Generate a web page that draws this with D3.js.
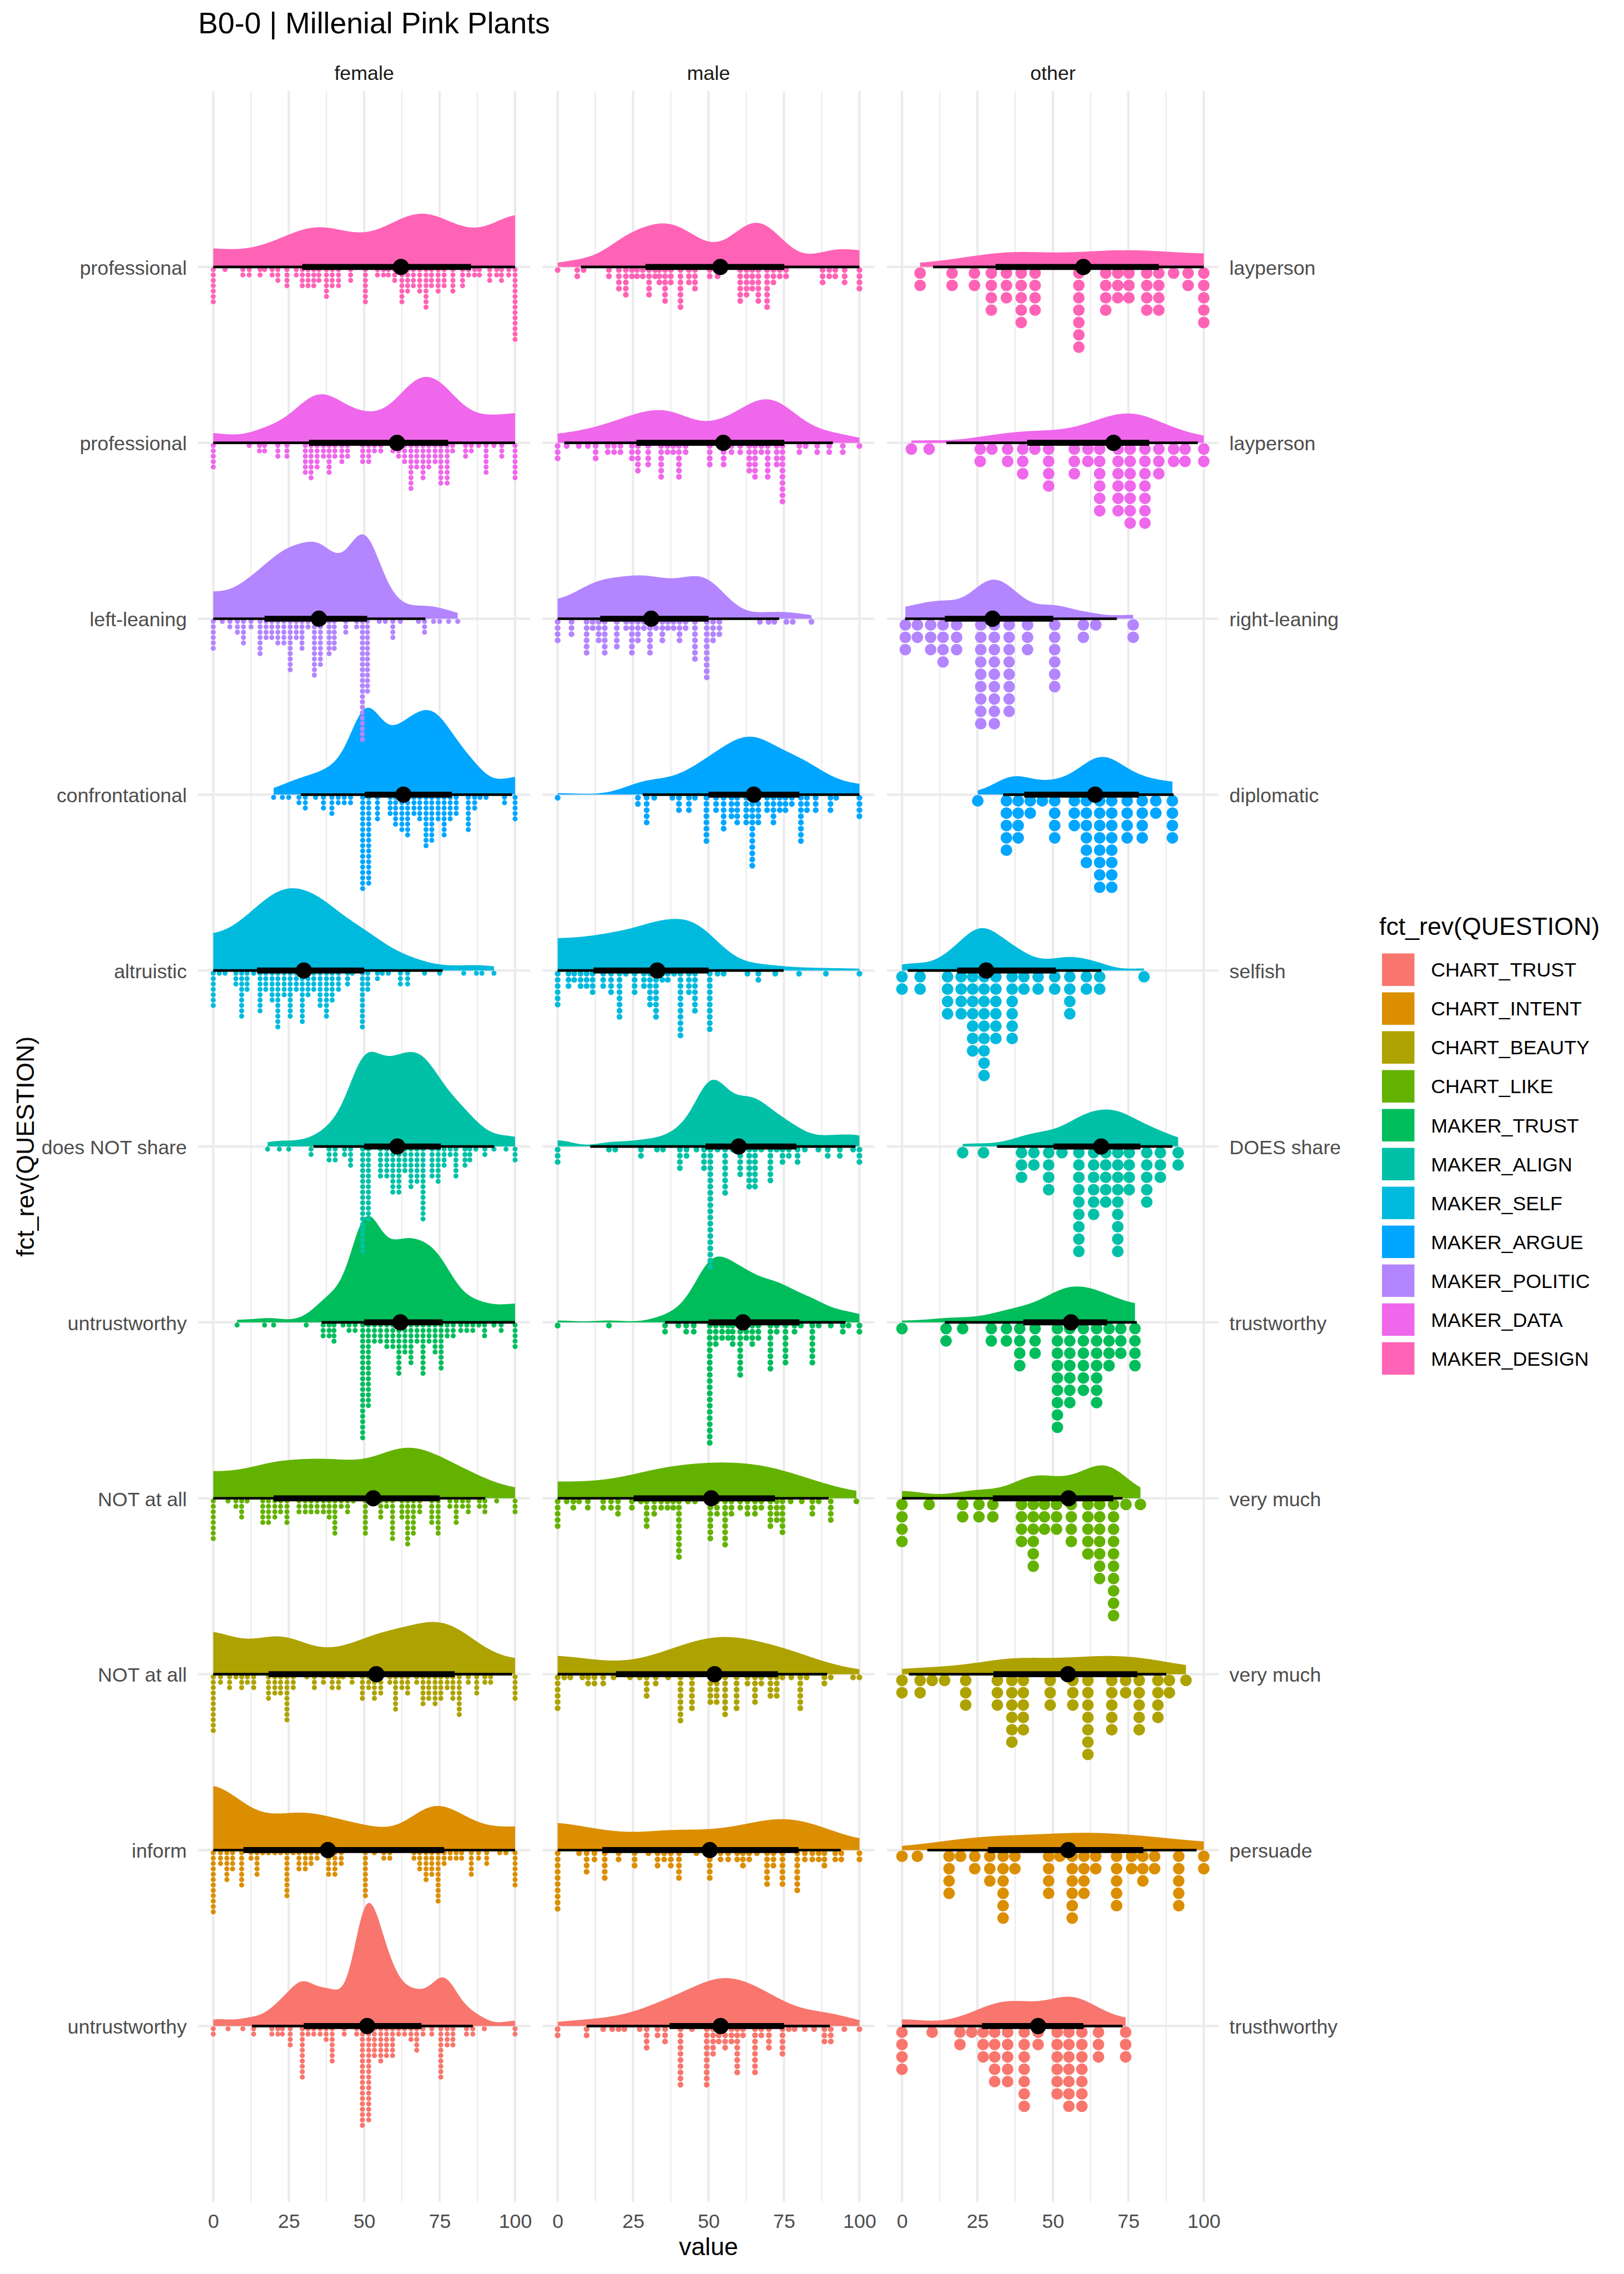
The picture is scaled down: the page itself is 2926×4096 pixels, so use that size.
<!DOCTYPE html>
<html><head><meta charset="utf-8">
<script src="https://cdn.jsdelivr.net/npm/d3@7"></script>
<style>body{margin:0;background:#fff}svg{display:block}</style>
</head><body>
<svg id="chart" width="2926" height="4096" viewBox="0 0 3000 4200"></svg>
<script>
// ---------------- DATA ----------------
const chartTitle = "B0-0 | Millenial Pink Plants";
const genders = ["female", "male", "other"];
const questions = ["CHART_TRUST","CHART_INTENT","CHART_BEAUTY","CHART_LIKE","MAKER_TRUST","MAKER_ALIGN","MAKER_SELF","MAKER_ARGUE","MAKER_POLITIC","MAKER_DATA","MAKER_DESIGN"];
const questionColors = ["#F8766D","#DB8E00","#AEA200","#64B200","#00BD5C","#00C1A7","#00BADE","#00A6FF","#B385FF","#EF67EB","#FF63B6"];
const lowLabels = ["untrustworthy","inform","NOT at all","NOT at all","untrustworthy","does NOT share","altruistic","confrontational","left-leaning","professional","professional"];
const highLabels = ["trusthworthy","persuade","very much","very much","trustworthy","DOES share","selfish","diplomatic","right-leaning","layperson","layperson"];
const xTicks = [0, 25, 50, 75, 100];
const xMinorTicks = [12.5, 37.5, 62.5, 87.5];

// dot stacks per question (order of `questions`): [value, count]
const femaleDots = [
  [[0,2],[4.9,1],[9.8,1],[13.4,2],[19.4,2],[21.4,2],[22.9,2],[25.5,4],[29.5,10],[31.4,2],[33.3,2],[35.4,2],[37.4,3],[39.4,7],[43.4,2],[47.5,2],[49.4,19],[51.5,18],[53.4,6],[55.5,7],[57.4,6],[59.4,6],[61.4,2],[63.4,2],[65.5,3],[67.4,5],[69.5,2],[72.4,2],[75.4,10],[77.5,4],[79.4,4],[83.9,2],[86,2],[89.8,1],[100,2]],
  [[0,12],[2.4,3],[4.5,6],[6.4,4],[9.4,7],[12.5,2],[14.5,5],[16.4,1],[18.3,1],[20.4,1],[22.3,1],[24.4,9],[26.5,1],[28.4,4],[30.5,4],[32.4,3],[34.4,2],[38.2,5],[40.3,5],[42.4,3],[50.4,9],[53.4,1],[56.5,2],[58.5,2],[66.5,2],[68.4,4],[70.5,6],[72.4,5],[74.5,10],[76.5,3],[78.5,2],[80.5,2],[82.3,2],[85.5,5],[87.9,2],[90.6,3],[94.9,1],[97,1],[100,7]],
  [[0,11],[2.4,2],[5.4,3],[7.5,1],[9.4,3],[11.3,2],[13.4,3],[18.3,5],[20.4,4],[22.3,4],[24.4,9],[26.5,3],[31,1],[33.5,3],[36.5,2],[39.4,3],[41.5,3],[43,1],[46,2],[49.4,5],[51.5,3],[53.4,5],[55.5,4],[58.5,2],[60.4,7],[62.5,3],[64.4,4],[67.4,2],[69.5,6],[71.4,5],[73.5,6],[75.4,5],[77.5,3],[79.4,5],[81.5,8],[84.5,2],[87.3,4],[90,2],[91.9,2],[100,5]],
  [[0,8],[4.9,1],[7.5,2],[9.4,4],[11.2,1],[16.4,5],[18.3,5],[20.4,4],[22.3,3],[24.4,5],[28.4,3],[30.5,3],[32.4,3],[34.4,3],[36.5,3],[38.4,4],[40.3,7],[42.4,2],[44.5,3],[46.4,1],[50.4,7],[55.5,4],[57.4,2],[59.4,8],[62.5,4],[64.4,9],[66.3,7],[68.4,3],[72.4,5],[74.5,7],[78.4,2],[80.5,5],[82.6,2],[84.5,3],[88.2,2],[90,3],[93.9,1],[100,3]],
  [[7.9,1],[17,1],[20,1],[30.8,1],[36.4,3],[38.4,3],[40,4],[43,1],[45,2],[47,2],[49.5,22],[51.4,16],[53.4,4],[55.4,4],[57.5,5],[59.5,5],[61.5,10],[63.5,6],[65.5,8],[67.5,4],[69.5,10],[71.5,4],[73.5,6],[75.5,9],[77.5,3],[79.5,3],[82,2],[84,2],[86,2],[88,1],[89.9,3],[93,1],[95.4,2],[100,5]],
  [[18,1],[21.9,1],[25,1],[32.4,2],[38.4,3],[40.4,3],[43.5,2],[45.5,4],[49.5,20],[51.4,14],[55.4,6],[57.5,6],[59.5,9],[61.5,9],[63.5,5],[65.5,8],[67.5,7],[69.5,14],[72.5,6],[74.5,7],[76.5,4],[78.5,2],[80.4,6],[83.4,4],[85,3],[87,1],[90,2],[93,1],[97,1],[100,3]],
  [[0,7],[2,1],[3.9,1],[7.5,3],[9.4,9],[11.2,4],[13.4,1],[15.5,8],[17.4,4],[19.5,6],[21.4,11],[23.5,5],[25.5,9],[27.5,4],[29.5,10],[31.4,5],[33.3,4],[35.4,7],[37.5,9],[39.4,6],[41.5,4],[44.5,3],[46.1,1],[49.4,11],[51.2,4],[54.4,2],[56,1],[58,1],[62,3],[64.4,3],[70,1],[75,1],[83,1],[87.2,1],[89,1],[93,1]],
  [[20,1],[22.9,1],[25,1],[28.4,2],[30.5,3],[33.9,1],[36.5,3],[39.3,4],[41.4,2],[43.4,2],[45.5,2],[49.5,18],[51.5,17],[54.4,5],[58.6,4],[60.4,6],[62.5,7],[64.4,8],[66.5,4],[68.4,5],[70.5,10],[72.4,9],[74.5,5],[76.5,8],[78.5,5],[80.5,4],[84.5,7],[86.6,3],[88.4,1],[90.4,1],[96.5,2],[100,5]],
  [[0,6],[3,1],[5.5,2],[8,3],[10,5],[12.5,2],[15.5,7],[17.5,4],[19.4,4],[21.4,5],[23.4,5],[25.5,10],[27.5,4],[29.4,6],[31.4,2],[33.5,11],[35.5,9],[38.4,7],[40.1,6],[43.9,3],[47.5,2],[49.4,23],[51.1,14],[55,1],[57,1],[59.5,4],[62,1],[68,1],[70,3],[73,1],[75,1],[78,1],[81,1]],
  [[0,5],[11.9,1],[15.3,2],[17,2],[21.4,3],[24.4,3],[30.5,6],[32.4,7],[34.4,5],[36.5,3],[38.4,6],[40.3,3],[42.6,4],[44.5,3],[49.5,4],[51.5,4],[53.4,2],[55.5,2],[59.5,2],[61.4,3],[63.4,4],[65.5,9],[67.4,5],[69.5,7],[71.4,5],[73.5,4],[75.4,8],[77.5,8],[79.3,2],[83.6,3],[85.5,2],[87.9,1],[90.4,6],[93,1],[95.6,3],[100,7]],
  [[0,7],[3.9,1],[9.8,2],[11.9,2],[15.5,2],[17,1],[19.5,2],[21.4,3],[24.4,4],[27.5,2],[29.5,4],[31.4,4],[33.3,4],[35,3],[37.5,6],[39.4,4],[41.5,4],[45.5,3],[50.4,7],[54.4,2],[56.4,2],[58,2],[60.1,3],[62.5,7],[64.4,5],[66.3,4],[68.4,5],[70.5,8],[72.3,4],[74.5,5],[76.5,4],[79.4,5],[82.6,4],[84.6,2],[86.6,2],[88.2,2],[91.6,3],[93.9,2],[95.5,3],[97.9,2],[100,14]]
];
const maleDots = [
  [[0,2],[9.6,2],[15.1,1],[18.1,1],[20.2,1],[22.1,1],[27.2,1],[29.5,4],[33.1,2],[35.6,3],[40.7,10],[44.5,1],[49.4,10],[51.5,5],[53.4,3],[55.5,4],[57.6,3],[59.5,8],[61.4,2],[65.4,8],[67.5,2],[70,4],[74.5,5],[76.6,1],[78.5,1],[81.9,1],[85,1],[88.4,3],[90.5,3],[95,1],[100,1]],
  [[0,10],[7.1,1],[9.6,4],[12.2,2],[15.6,5],[20.2,2],[25.5,3],[30.1,1],[33.1,3],[35.3,2],[37.5,3],[40.2,5],[46,1],[50.4,5],[54,2],[56.5,2],[59.5,2],[61.4,3],[63.5,2],[66,1],[69.4,6],[71.5,3],[74.5,6],[79.4,7],[81.9,2],[84.4,2],[86.5,2],[88.4,3],[92,2],[94,2],[100,2]],
  [[0,6],[2.2,1],[4.2,1],[8.2,1],[10.1,2],[12.2,2],[15.1,2],[18.5,1],[24,1],[27.2,1],[29.5,4],[32.5,2],[36.6,1],[40.7,8],[44.5,6],[50.6,5],[52.7,5],[55.5,7],[59.3,6],[62.9,2],[65.4,5],[67.5,2],[70.5,4],[72.6,4],[74.5,1],[77.4,1],[80.4,6],[82.5,1],[88.4,2],[90.5,1],[97.9,1],[100,1]],
  [[0,5],[3,1],[5.2,2],[7.1,1],[10,2],[15.1,2],[17.7,2],[20,3],[24.6,2],[27.6,1],[29.5,5],[32,3],[34.3,2],[36.4,2],[38.3,2],[40.2,10],[43.2,1],[45.5,1],[50.6,7],[52.8,3],[55.5,8],[57.6,3],[60.5,2],[62.9,3],[65.4,3],[67.5,2],[70.5,5],[72.6,4],[74.5,6],[77.2,1],[80.9,1],[84.4,3],[86.5,1],[90.5,4],[99,1]],
  [[0,1],[17,1],[35.6,2],[40,1],[42.6,2],[45.1,2],[50.4,20],[52.4,4],[54.5,3],[56.5,3],[58,4],[60.5,9],[62.5,3],[64.5,4],[66.5,3],[70.5,8],[72.6,2],[75.5,7],[78.5,2],[80.6,1],[84.4,7],[86.5,1],[90.5,1],[94.5,2],[96.4,1],[100,2]],
  [[0,3],[17,1],[19.1,1],[27.6,2],[32.9,1],[34.9,1],[40.5,4],[42.7,2],[46,1],[48.5,4],[50.6,20],[53,1],[55.5,8],[58,1],[60.5,5],[63.5,7],[65.4,7],[67.5,1],[70.5,6],[72.6,1],[74.5,3],[76.6,2],[79.5,3],[81.9,1],[86.4,1],[89.5,2],[93.5,2],[97.9,1],[100,3]],
  [[0,6],[3.6,3],[5.5,2],[7.6,3],[9.6,3],[11.6,4],[15.1,3],[17.7,4],[20.5,8],[22.6,1],[25.5,4],[28.6,3],[30.6,6],[32.6,8],[34.7,2],[36.5,2],[38.6,1],[40.7,11],[43.5,4],[45.5,7],[50.4,10],[53,1],[55,1],[62.9,1],[66.5,2],[72.1,1],[80,1],[88.9,1],[100,1]],
  [[0,1],[26.6,2],[29.5,5],[32,1],[38,1],[40.2,3],[43.5,3],[45.5,1],[49.3,8],[52.5,3],[55,6],[57.6,4],[59.5,5],[62.5,5],[64.5,12],[66.5,5],[69.4,3],[71.5,5],[73.6,3],[75.5,3],[77.6,2],[80.6,8],[82.6,3],[85.5,3],[90.4,3],[92.3,1],[100,4]],
  [[0,4],[4.6,3],[9.6,6],[11.6,2],[13.6,4],[15.6,6],[19.6,5],[22.7,2],[24.6,6],[26.6,4],[28.6,2],[30.6,6],[32.6,2],[34.7,4],[36.5,2],[38.4,2],[40.4,4],[42.4,2],[45.5,7],[49.4,10],[51.5,4],[53.6,3],[67,1],[69.9,1],[71.8,1],[75.8,1],[77.9,1],[84.1,1]],
  [[0,3],[3,1],[7,1],[10,1],[12.6,3],[16.6,2],[18.7,2],[20.8,2],[24.6,3],[26.6,5],[30,4],[34.3,6],[36.4,2],[38.3,2],[40.2,6],[42.4,2],[50.4,4],[55,4],[57.6,2],[60.5,2],[63.5,5],[65.4,6],[67.5,2],[69.6,6],[72.6,4],[74.5,10],[80.1,2],[82.2,1],[86,2],[90,2],[94.5,2],[100,1]],
  [[0,1],[6.5,2],[8.6,1],[17,2],[20.3,4],[22.6,5],[24.6,2],[26.3,2],[28.2,2],[30.3,5],[32.3,2],[33.7,3],[35.6,6],[37.5,3],[40.7,7],[43.5,3],[45.5,4],[50.4,2],[53,2],[55,1],[60.5,6],[62.6,5],[64.5,4],[66.5,6],[69.4,7],[71.5,3],[73.6,2],[75.7,2],[87.8,3],[90,2],[92,2],[95.1,3],[100,4]]
];
const otherDots = [
  [[0,4],[10,1],[19.2,2],[23.1,1],[26.9,3],[30.7,5],[35,5],[40.5,7],[45.1,2],[51.4,6],[55.3,7],[59.6,7],[65.1,3],[74.1,3]],
  [[0,1],[5.1,1],[15.6,4],[19.4,1],[24.1,2],[29.1,3],[33.5,6],[37.4,2],[48.6,4],[52.3,1],[56.4,6],[60.3,4],[64.2,2],[71.1,5],[76.1,2],[79.8,3],[83.7,2],[91.7,5],[100,2]],
  [[0,2],[6,2],[10,1],[14.1,1],[21.1,3],[31.6,3],[36.4,6],[40.2,5],[49.1,3],[56.6,3],[61.6,7],[69.5,5],[74.1,2],[78.6,5],[84.8,4],[88.6,2],[94.1,1]],
  [[0,4],[9,1],[20.1,2],[25.5,2],[30.1,2],[39.6,4],[43.5,6],[47.2,3],[51.2,3],[56.1,4],[61.6,5],[65.5,7],[70.1,10],[74.2,1],[79,1]],
  [[0,1],[14.6,2],[20.1,1],[29.6,2],[34.6,2],[39,4],[44.1,3],[51.5,9],[55.6,7],[60.1,6],[64.5,7],[68.6,4],[72.5,3],[77.2,4]],
  [[20.1,1],[27,1],[39.6,3],[43.7,2],[48.6,4],[53,1],[58.6,9],[63.5,6],[67.5,5],[71.5,9],[75.3,4],[81.1,5],[85.6,3],[91.5,2]],
  [[0,2],[6,2],[15.1,4],[19.6,4],[23.4,7],[27.2,9],[31.1,6],[36.5,6],[40.4,2],[45.1,2],[50.6,2],[55.6,4],[61.1,2],[65.5,2],[80.2,1]],
  [[25.1,1],[34.6,5],[38.5,4],[42.5,2],[46.5,1],[50.6,4],[57.1,3],[61.1,6],[65.5,8],[69.5,8],[74.6,4],[79.6,4],[84.1,2],[89.6,4]],
  [[1.1,3],[5.1,2],[9.5,3],[13.6,4],[18.1,3],[26.1,9],[30.6,9],[35.5,8],[41.6,3],[50.6,6],[60.1,2],[64.2,1],[76.6,2]],
  [[3.1,1],[9,1],[25.9,2],[29.8,1],[35,2],[40,3],[44,1],[48.6,4],[57.1,3],[61.6,2],[65.5,6],[71.6,6],[75.6,7],[80.5,7],[85.1,3],[90,2],[93.8,2],[100,2]],
  [[6,2],[16.6,2],[24,2],[29.6,4],[34.6,3],[39.5,5],[44.1,4],[58.6,7],[67.5,4],[71.5,3],[75.2,3],[81.1,4],[85.1,4],[90,1],[94.8,2],[100,5]]
];

// point intervals per question: [2.5%, 17%, median, 83%, 97.5%]
const femaleIntervals = [[12.8,30,51,69,86],[0,10,38,76.5,100],[0,18.3,54,80,99],[0,20,53,75,90.1],[35.9,50,62,76,100],[33.2,50,61,75.4,93.1],[0,14.5,30,50,76],[29,50.2,63,79,99],[0,17,35,51,70.3],[0,31.7,60.9,77.8,100],[0,29.5,62.2,85.4,100]];
const maleIntervals = [[9.6,37.1,54,75,90.2],[0,14.8,50.4,79.8,93.8],[0,19.3,52,73,89.3],[0,25.2,50.9,72,89.8],[35.6,50,61.4,80.1,95.4],[10.8,49,60,79.1,98.7],[0,11.9,33,50,74.9],[28.2,50,65,80.1,100],[0,14.1,31,50,73.4],[2.2,26.1,54.9,75.1,91.2],[7.7,29.1,53.9,75.1,100]];
const otherIntervals = [[0,26.5,45.1,60.1,73.1],[8.4,28.5,55.1,80,97.6],[2.3,30.3,55,78,87.6],[0,30.1,55.2,70,73.1],[14.2,40.2,56,68,77.8],[31.5,50.2,66,79,89.6],[1.9,18.3,27.9,51,66],[33.5,40.5,64,78.5,90],[1,14.2,30,50.1,71.2],[14.7,41.5,70.1,81.9,98],[10.3,31,60.1,85.1,100]];

// ---------------- HELPERS ----------------
const dotsByGender = [femaleDots, maleDots, otherDots];
const intervalsByGender = [femaleIntervals, maleIntervals, otherIntervals];
const FONT = "'Liberation Sans', Arial, Helvetica, sans-serif";

function expand(stacks) { const v = []; stacks.forEach(([val, c]) => { for (let i = 0; i < c; i++) v.push(val); }); return v; }
function phiSum(x, h, order) {
  const n = x.length; let s = 0;
  for (let i = 0; i < n; i++) for (let j = i + 1; j < n; j++) {
    const d0 = (x[i] - x[j]) / h, d = d0 * d0;
    if (d >= 1000) continue;
    const e = Math.exp(-d / 2);
    s += order === 4 ? e * (d * d - 6 * d + 3) : e * (d * d * d - 15 * d * d + 45 * d - 15);
  }
  if (order === 4) { s = 2 * s + 3 * n; return s / (n * (n - 1) * Math.pow(h, 5) * Math.sqrt(2 * Math.PI)); }
  s = 2 * s - 15 * n; return s / (n * (n - 1) * Math.pow(h, 7) * Math.sqrt(2 * Math.PI));
}
// Sheather-Jones direct plug-in bandwidth (falls back to nrd0)
function bandwidthDpi(x) {
  const n = x.length, s = x.slice().sort(d3.ascending);
  const sd = d3.deviation(s);
  const iqr = d3.quantileSorted(s, 0.75) - d3.quantileSorted(s, 0.25);
  let scale = Math.min(sd, iqr / 1.349); if (!(scale > 0)) scale = sd;
  const nrd0 = 0.9 * scale * Math.pow(n, -0.2);
  const b = 1.23 * scale * Math.pow(n, -1 / 9), c1 = 1 / (2 * Math.sqrt(Math.PI) * n);
  const TD = -phiSum(s, b, 6);
  if (!(TD > 0)) return nrd0;
  const SD = phiSum(s, Math.pow(2.394 / (n * TD), 1 / 7), 4);
  if (!(SD > 0)) return nrd0;
  const h = Math.pow(c1 / SD, 1 / 5);
  return isFinite(h) && h > 0 ? h : nrd0;
}
// KDE (pdf * n), reflected at bounds estimated just outside the data range
// (farther out where the data are sparse near an extreme), trimmed to the data range
function densityCurve(x) {
  const lo = d3.min(x), hi = d3.max(x), h = bandwidthDpi(x);
  const K = t => Math.exp(-0.5 * t * t) / Math.sqrt(2 * Math.PI);
  const g = t => d3.sum(x, xi => K((t - xi) / h)) / h;
  const L = lo - 2 / g(lo), U = hi + 2 / g(hi);
  const pts = [], m = 300;
  for (let k = 0; k <= m; k++) {
    const t = lo + (hi - lo) * k / m; let f = 0;
    for (const xi of x) f += K((t - xi) / h) + K((t - (2 * L - xi)) / h) + K((t - (2 * U - xi)) / h);
    pts.push([t, f / h]);
  }
  return pts;
}

// ---------------- LAYOUT ----------------
const svg = d3.select("#chart");
svg.append("rect").attr("width", 3000).attr("height", 4200).attr("fill", "#ffffff");

const panelW = 613.3, panelGap = 22.9, panelLeft = 366;
const yRow = d3.scalePoint().domain(questions).range([3742, 493]);
const step = yRow.step();
const panelTop = yRow(questions[questions.length - 1]) - step;
const panelBottom = yRow(questions[0]) + step;
const xScales = genders.map((g, i) => d3.scaleLinear().domain([-5, 105])
  .range([panelLeft + i * (panelW + panelGap), panelLeft + i * (panelW + panelGap) + panelW]));

const grid = svg.append("g"), slabs = svg.append("g"), dots = svg.append("g"), intervals = svg.append("g");

genders.forEach((g, gi) => {
  const x = xScales[gi], [x0, x1] = x.range();
  xMinorTicks.forEach(t => grid.append("line").attr("x1", x(t)).attr("x2", x(t)).attr("y1", panelTop).attr("y2", panelBottom)
    .attr("stroke", "#EBEBEB").attr("stroke-width", 2.2));
  xTicks.forEach(t => grid.append("line").attr("x1", x(t)).attr("x2", x(t)).attr("y1", panelTop).attr("y2", panelBottom)
    .attr("stroke", "#EBEBEB").attr("stroke-width", 4.4));
  questions.forEach(q => grid.append("line").attr("x1", x0).attr("x2", x1).attr("y1", yRow(q)).attr("y2", yRow(q))
    .attr("stroke", "#EBEBEB").attr("stroke-width", 4.4));
});

// half-eye slabs (density * n, normalised over all slabs)
const curves = genders.map((g, gi) => questions.map((q, qi) => densityCurve(expand(dotsByGender[gi][qi]))));
const maxThick = d3.max(curves.flat(), c => d3.max(c, d => d[1]));
const thick = d3.scaleLinear().domain([0, maxThick]).range([0, 0.7 * step]);
genders.forEach((g, gi) => {
  const x = xScales[gi];
  questions.forEach((q, qi) => {
    const base = yRow(q);
    const area = d3.area().x(d => x(d[0])).y0(base).y1(d => base - thick(d[1]));
    slabs.append("path").attr("d", area(curves[gi][qi])).attr("fill", questionColors[qi]);
  });
});

// dots (binwidth per panel so that the tallest stack fills the same height)
const stackHeight = 228;
genders.forEach((g, gi) => {
  const x = xScales[gi];
  const maxCount = d3.max(dotsByGender[gi].flat(), d => d[1]);
  const pitch = stackHeight / maxCount;
  questions.forEach((q, qi) => {
    const base = yRow(q), pts = [];
    dotsByGender[gi][qi].forEach(([v, c]) => { for (let k = 0; k < c; k++) pts.push([v, k]); });
    dots.selectAll(null).data(pts).enter().append("circle")
      .attr("cx", d => x(d[0])).attr("cy", d => base + pitch * (d[1] + 0.5)).attr("r", pitch * 0.47)
      .attr("fill", questionColors[qi]);
  });
});

// point + intervals
genders.forEach((g, gi) => {
  const x = xScales[gi];
  questions.forEach((q, qi) => {
    const base = yRow(q), iv = intervalsByGender[gi][qi];
    intervals.append("line").attr("x1", x(iv[0])).attr("x2", x(iv[4])).attr("y1", base).attr("y2", base)
      .attr("stroke", "#000").attr("stroke-width", 4.8);
    intervals.append("line").attr("x1", x(iv[1])).attr("x2", x(iv[3])).attr("y1", base).attr("y2", base)
      .attr("stroke", "#000").attr("stroke-width", 11);
    intervals.append("circle").attr("cx", x(iv[2])).attr("cy", base).attr("r", 15).attr("fill", "#000");
  });
});

// strip labels
genders.forEach((g, gi) => {
  const [x0, x1] = xScales[gi].range();
  svg.append("text").attr("x", (x0 + x1) / 2).attr("y", 148).attr("text-anchor", "middle")
    .attr("font-family", FONT).attr("font-size", 36.7).attr("fill", "#1A1A1A").text(g);
});
// x axes
genders.forEach((g, gi) => {
  const ax = svg.append("g").attr("transform", `translate(0,${panelBottom})`)
    .call(d3.axisBottom(xScales[gi]).tickValues(xTicks).tickSize(0).tickPadding(22));
  ax.select(".domain").remove();
  ax.attr("font-size", 36.7).attr("font-family", FONT).attr("color", "#4D4D4D");
});
// y axes
const axL = svg.append("g").attr("transform", `translate(${xScales[0].range()[0]},0)`)
  .call(d3.axisLeft(yRow).tickSize(0).tickPadding(21).tickFormat(q => lowLabels[questions.indexOf(q)]));
axL.select(".domain").remove();
axL.attr("font-size", 36.7).attr("font-family", FONT).attr("color", "#4D4D4D");
axL.selectAll("text").attr("dy", "0.37em");
const axR = svg.append("g").attr("transform", `translate(${xScales[2].range()[1]},0)`)
  .call(d3.axisRight(yRow).tickSize(0).tickPadding(19.5).tickFormat(q => highLabels[questions.indexOf(q)]));
axR.select(".domain").remove();
axR.attr("font-size", 36.7).attr("font-family", FONT).attr("color", "#4D4D4D");
axR.selectAll("text").attr("dy", "0.37em");

// titles
svg.append("text").attr("x", (xScales[0].range()[0] + xScales[2].range()[1]) / 2).attr("y", 4165)
  .attr("text-anchor", "middle").attr("font-family", FONT).attr("font-size", 45.8).attr("fill", "#000").text("value");
svg.append("text").attr("transform", `translate(62,${(panelTop + panelBottom) / 2}) rotate(-90)`)
  .attr("text-anchor", "middle").attr("font-family", FONT).attr("font-size", 45.8).attr("fill", "#000").text("fct_rev(QUESTION)");
svg.append("text").attr("x", panelLeft).attr("y", 62).attr("font-family", FONT).attr("font-size", 55)
  .attr("fill", "#000").text(chartTitle);

// legend
const legend = svg.append("g");
legend.append("text").attr("x", 2548).attr("y", 1727).attr("font-family", FONT).attr("font-size", 45.8)
  .attr("fill", "#000").text("fct_rev(QUESTION)");
questions.forEach((q, i) => {
  const top = 1761 + i * 71.8;
  legend.append("rect").attr("x", 2553).attr("y", top).attr("width", 60).attr("height", 60).attr("fill", questionColors[i]);
  legend.append("text").attr("x", 2643.6).attr("y", top + 30 + 13.1).attr("font-family", FONT).attr("font-size", 36.7)
    .attr("fill", "#000").text(q);
});
</script>
</body></html>
